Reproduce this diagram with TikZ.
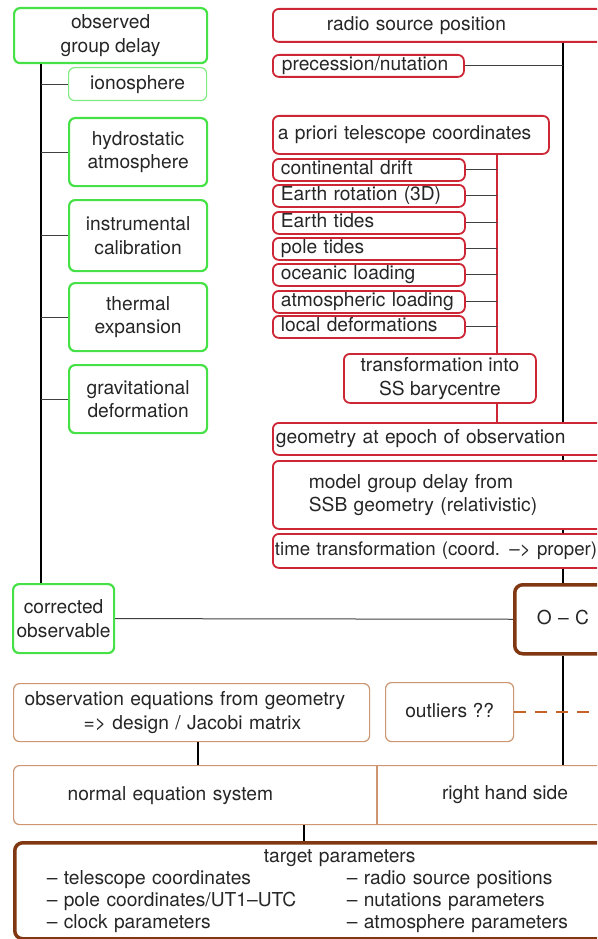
\documentclass[tikz,border=0pt]{standalone}
\usepackage{fontspec}
\setsansfont{TeX Gyre Heros}

\definecolor{obsgreen}{RGB}{70,225,70}
\definecolor{lightgreen}{RGB}{125,235,125}
\definecolor{modelred}{RGB}{205,38,52}
\definecolor{adjbrown}{RGB}{128,55,18}
\definecolor{adjtan}{RGB}{205,150,112}
\definecolor{outlierbrown}{RGB}{198,98,38}

\tikzset{
  box/.style={shape=rectangle, draw, fill=white, anchor=north west, inner ysep=0pt,
    font={\sffamily\fontsize{19.2}{23.5}\selectfont}, text=black!85},
  oneline/.style={text height=14pt, text depth=4pt},
  greenbox/.style={box, draw=obsgreen, line width=2.2pt, rounded corners=6pt, align=center},
  thingreen/.style={box, draw=lightgreen, line width=1.2pt, rounded corners=6pt, align=center},
  redbox/.style={box, draw=modelred, line width=1.8pt, rounded corners=6pt, align=left},
  smallred/.style={redbox, oneline, minimum height=22pt, text width=176pt, inner xsep=8pt},
  brownbox/.style={box, draw=adjbrown, line width=3.5pt, rounded corners=8pt, align=left},
  tanbox/.style={box, draw=adjtan, line width=1.2pt, rounded corners=6pt},
  plaintext/.style={font={\sffamily\fontsize{19.2}{23.5}\selectfont}, text=black!85, inner sep=0pt},
  trunk/.style={draw=black, line width=1.5pt},
  tick/.style={draw=black!75, line width=1pt},
  redline/.style={draw=modelred, line width=1.8pt},
  dashline/.style={draw=outlierbrown, line width=2.6pt, dash pattern=on 12pt off 9pt}
}

\begin{document}
\begin{tikzpicture}[x=1pt, y=-1pt]
\useasboundingbox (0,0) rectangle (597,939);
\clip (0,0) rectangle (597,939);

% observed side
\node[greenbox, minimum width=193pt, minimum height=55pt] (obs) at (13,7) {observed\\group delay};
\node[thingreen, oneline, minimum width=138pt, minimum height=33pt] (iono) at (68,67) {ionosphere};
\node[greenbox, minimum width=138pt, minimum height=68pt] (hydro) at (68,117) {hydrostatic\\atmosphere};
\node[greenbox, minimum width=138pt, minimum height=71pt] (instr) at (68,199) {instrumental\\calibration};
\node[greenbox, minimum width=138pt, minimum height=68pt] (therm) at (68,282) {thermal\\expansion};
\node[greenbox, minimum width=138pt, minimum height=68pt] (grav) at (68,364) {gravitational\\deformation};
\node[greenbox, minimum width=101pt, minimum height=69pt] (corr) at (12,583) {corrected\\observable};

% computed side
\node[redbox, oneline, minimum height=33pt, text width=260pt, inner xsep=54pt] (radio) at (272,8) {radio source position};
\node[redbox, oneline, minimum height=22pt, text width=173pt, inner xsep=9pt] (prec) at (272,54) {precession/nutation};
\node[redbox, oneline, minimum height=38pt, text width=266pt, inner xsep=5pt] (apriori) at (272,115) {a priori telescope coordinates};
\node[smallred] (drift) at (272,158) {continental drift};
\node[smallred] (rot) at (272,184) {Earth rotation (3D)};
\node[smallred] (etide) at (272,211) {Earth tides};
\node[smallred] (ptide) at (272,237) {pole tides};
\node[smallred] (ocean) at (272,263) {oceanic loading};
\node[smallred] (atmo) at (272,290) {atmospheric loading};
\node[smallred] (local) at (272,315) {local deformations};
\node[redbox, align=center, minimum width=192pt, minimum height=49pt] (transf) at (343,353) {transformation into\\SS barycentre};
\node[redbox, oneline, minimum height=32pt, text width=362pt, inner xsep=3pt] (geom) at (272,422) {geometry at epoch of observation};
\node[redbox, minimum height=68pt, text width=296pt, inner xsep=36pt] (model) at (272,460) {model group delay from\\SSB geometry (relativistic)};
\node[redbox, oneline, minimum height=34pt, text width=364pt, inner xsep=2pt, font={\sffamily\fontsize{18.7}{23.5}\selectfont}] (time) at (272,533) {time transformation (coord. –> proper)};

% adjustment
\node[brownbox, oneline, minimum height=69pt, text width=83pt, inner xsep=22pt] (oc) at (513,583) {O – C};
\node[tanbox, align=left, minimum height=58pt, text width=334pt, inner xsep=11pt] (obseq) at (13,683) {observation equations from geometry\\\hspace*{59pt}=> design / Jacobi matrix};
\node[tanbox, oneline, align=center, minimum width=128pt, minimum height=59pt] (outl) at (385,682) {outliers ??};
\node[tanbox, oneline, align=left, minimum height=59pt, text width=519pt, inner xsep=54pt] (normal) at (13,765) {normal equation system};
\node[plaintext, oneline] (rhs) at (505,794.5) {right hand side};
\node[brownbox, minimum height=96pt, text width=563pt, inner xsep=32pt, font={\sffamily\fontsize{19.2}{22}\selectfont}] (target) at (13,841)
  {\hspace*{217pt}target parameters\\
   \makebox[300pt][l]{– telescope coordinates}– radio source positions\\
   \makebox[300pt][l]{– pole coordinates/UT1–UTC}– nutations parameters\\
   \makebox[300pt][l]{– clock parameters}– atmosphere parameters};

\coordinate (gx) at (41,0);
\coordinate (rx) at (497,0);
\coordinate (bx) at (563,0);
\coordinate (ox) at (198,0);
\coordinate (nx) at (304,0);
\coordinate (divx) at (377,0);
\coordinate (dashend) at (620,0);

% connectors
\draw[trunk] (obs.south -| gx) -- (corr.north -| gx);
\foreach \n in {iono,hydro,instr,therm,grav}
  \draw[tick] (\n.west -| gx) -- (\n.west);

\draw[trunk] (radio.south -| bx) -- (geom.north -| bx);
\draw[trunk] (geom.south -| bx) -- (model.north -| bx);
\draw[trunk] (model.south -| bx) -- (time.north -| bx);
\draw[trunk] (time.south -| bx) -- (oc.north -| bx);
\draw[trunk] (oc.south -| bx) -- (normal.north -| bx);
\draw[tick] (prec.east) -- (prec.east -| bx);

\draw[redline] (apriori.south -| rx) -- (transf.north -| rx);
\draw[redline] (transf.south -| rx) -- (geom.north -| rx);
\foreach \n in {drift,rot,etide,ptide,ocean,atmo,local}
  \draw[tick] (\n.east) -- (\n.east -| rx);

\draw[tick] (corr.east) -- (oc.west);
\draw[dashline] (outl.east) -- (outl.east -| dashend);
\draw[trunk] (obseq.south -| ox) -- (normal.north -| ox);
\draw[draw=adjtan, line width=1.2pt] (normal.north -| divx) -- (normal.south -| divx);
\draw[trunk] (normal.south -| nx) -- (target.north -| nx);
\end{tikzpicture}
\end{document}
